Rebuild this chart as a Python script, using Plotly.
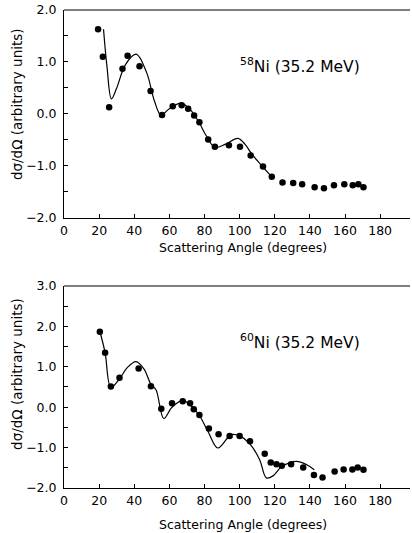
import plotly.graph_objects as go
from plotly.subplots import make_subplots

# ---- 58Ni data ----
ni58_angle = [19.4, 22.1, 25.7, 33.3, 36.2, 43.0, 49.3, 55.8, 61.9, 67.0, 70.7, 74.1, 77.1,
              82.1, 85.9, 93.9, 100.2, 106.3, 113.3, 118.3, 124.4, 130.5, 135.6, 142.7,
              148.0, 153.7, 159.6, 164.4, 167.6, 170.5]
ni58_xs = [1.63, 1.10, 0.13, 0.87, 1.12, 0.92, 0.44, -0.02, 0.15, 0.17, 0.10, -0.03, -0.16,
           -0.49, -0.63, -0.60, -0.63, -0.80, -1.01, -1.21, -1.32, -1.33, -1.35, -1.41,
           -1.43, -1.37, -1.35, -1.37, -1.35, -1.41]
ni58_fit_angle = [22.5, 24.5, 27.0, 30.0, 35.0, 41.1, 47.0, 51.5, 55.2, 60.0, 66.7, 72.0,
                  77.0, 81.0, 85.9, 92.0, 99.0, 103.0, 106.7, 111.4, 118.3]
ni58_fit = [1.63, 0.90, 0.29, 0.50, 0.95, 1.15, 0.80, 0.25, -0.02, 0.10, 0.21, 0.08,
            -0.17, -0.42, -0.64, -0.58, -0.47, -0.58, -0.76, -0.95, -1.21]

# ---- 60Ni data ----
ni60_angle = [20.4, 23.4, 26.7, 31.6, 42.5, 49.5, 55.4, 61.5, 67.6, 71.8, 73.9, 77.1,
              82.5, 88.0, 94.3, 100.0, 105.9, 114.3, 117.7, 121.0, 124.0, 129.3, 136.2,
              142.3, 147.2, 154.1, 159.2, 164.2, 167.2, 170.5]
ni60_xs = [1.87, 1.35, 0.51, 0.73, 0.96, 0.52, -0.04, 0.10, 0.15, 0.10, -0.05, -0.19,
           -0.53, -0.67, -0.71, -0.71, -0.84, -1.15, -1.37, -1.41, -1.45, -1.41, -1.49,
           -1.68, -1.74, -1.59, -1.54, -1.54, -1.49, -1.55]
ni60_fit_angle = [20.4, 23.4, 26.7, 31.6, 36.0, 41.0, 45.5, 49.5, 52.4, 56.8, 61.5, 67.6,
                  72.0, 77.0, 82.0, 87.6, 95.2, 100.0, 105.7, 111.4, 115.2, 119.0, 124.0,
                  132.4, 138.0, 142.5]
ni60_fit = [1.88, 1.35, 0.49, 0.70, 0.98, 1.13, 0.95, 0.57, 0.43, -0.28, 0.00, 0.17,
            0.05, -0.20, -0.60, -1.01, -0.68, -0.71, -0.90, -1.30, -1.75, -1.70, -1.47,
            -1.34, -1.42, -1.55]

x_ticks = [0, 20, 40, 60, 80, 100, 120, 140, 160, 180]
x_title = "Scattering Angle (degrees)"
y_title = "d\u03c3/d\u03a9 (arbitrary units)"
panel_labels = ["<sup>58</sup>Ni (35.2 MeV)", "<sup>60</sup>Ni (35.2 MeV)"]
font_family = "DejaVu Sans, Verdana, sans-serif"

fig = make_subplots(rows=2, cols=1, vertical_spacing=0.14)

for row, (ax, ay, fx, fy) in enumerate([(ni58_angle, ni58_xs, ni58_fit_angle, ni58_fit),
                                         (ni60_angle, ni60_xs, ni60_fit_angle, ni60_fit)], start=1):
    fig.add_trace(go.Scatter(x=fx, y=fy, mode="lines",
                             line=dict(color="black", width=1.2, shape="spline", smoothing=1.0),
                             showlegend=False, hoverinfo="skip"), row=row, col=1)
    fig.add_trace(go.Scatter(x=ax, y=ay, mode="markers", marker=dict(color="black", size=6.5),
                             showlegend=False), row=row, col=1)

axis_common = dict(showline=True, linecolor="black", linewidth=1, showgrid=False, zeroline=False,
                   ticks="inside", ticklen=4, tickcolor="black", automargin=False,
                   ticklabeloverflow="allow",
                   tickfont=dict(family=font_family, size=12.5, color="black"))

fig.update_xaxes(**axis_common, range=[0, 197], tickvals=x_ticks, ticklabelstandoff=1)
fig.update_yaxes(**axis_common, dtick=1, tickformat=".1f", ticklabelstandoff=4,
                 minor=dict(dtick=0.5, ticks="inside", ticklen=4, tickcolor="black"))
fig.update_yaxes(range=[-2, 2], tick0=-2, row=1, col=1)
fig.update_yaxes(range=[-2, 3], tick0=-2, row=2, col=1)

title_font = dict(family=font_family, size=12.5, color="black")
fig.update_layout(
    width=412, height=533,
    margin=dict(l=64, r=2, t=10, b=45),
    plot_bgcolor="white", paper_bgcolor="white",
    yaxis=dict(domain=[0.565, 1.0]),
    yaxis2=dict(domain=[0.0, 0.4226]),
    shapes=[
        dict(type="line", xref="x domain", yref="y domain", x0=0, x1=1, y0=1, y1=1,
             line=dict(color="black", width=1)),
        dict(type="line", xref="x2 domain", yref="y2 domain", x0=0, x1=1, y0=1, y1=1,
             line=dict(color="black", width=1)),
    ],
    annotations=[
        dict(x=99, y=0.94, xref="x", yref="y", xanchor="left", yanchor="middle", showarrow=False,
             text=panel_labels[0], font=dict(family=font_family, size=15.5, color="black")),
        dict(x=99, y=1.62, xref="x2", yref="y2", xanchor="left", yanchor="middle", showarrow=False,
             text=panel_labels[1], font=dict(family=font_family, size=15.5, color="black")),
        dict(x=0.517, y=0.504, xref="paper", yref="paper", xanchor="center", yanchor="middle",
             showarrow=False, text=x_title, font=title_font),
        dict(x=0.517, y=-0.0774, xref="paper", yref="paper", xanchor="center", yanchor="middle",
             showarrow=False, text=x_title, font=title_font),
        dict(x=-0.136, y=0.803, xref="paper", yref="paper", xanchor="center", yanchor="middle",
             showarrow=False, text=y_title, textangle=-90,
             font=dict(family=font_family, size=13.5, color="black")),
        dict(x=-0.136, y=0.2385, xref="paper", yref="paper", xanchor="center", yanchor="middle",
             showarrow=False, text=y_title, textangle=-90,
             font=dict(family=font_family, size=13.5, color="black")),
    ],
)

fig.write_html("out.html", config={"displayModeBar": False},
               post_script="document.body.style.margin='0px';")
